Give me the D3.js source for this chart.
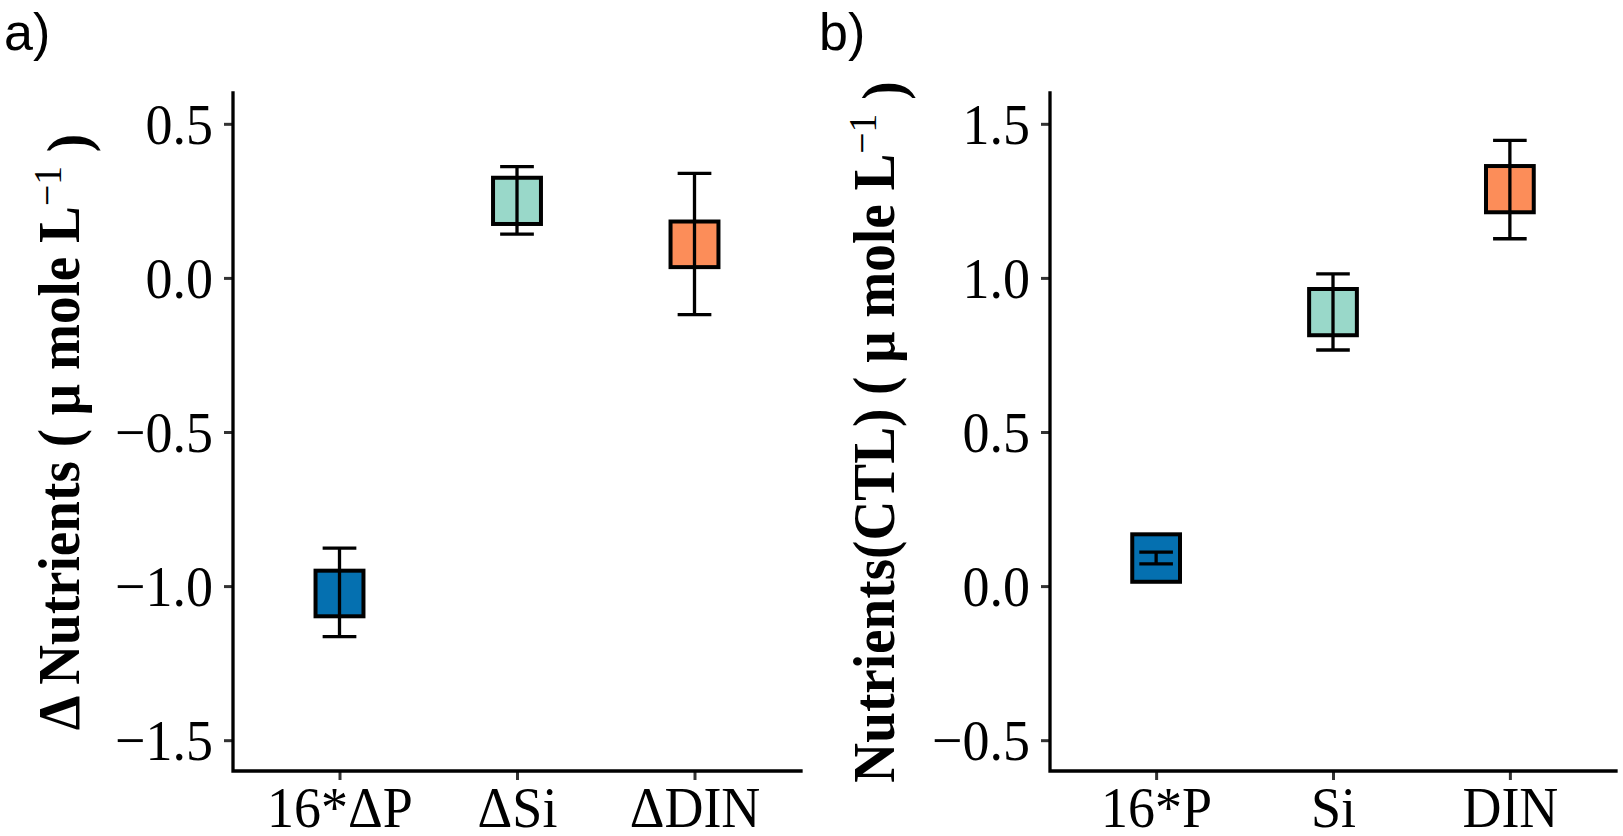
<!DOCTYPE html>
<html>
<head>
<meta charset="utf-8">
<script src="https://cdn.jsdelivr.net/npm/d3@7"></script>
<style>
  body { margin: 0; background: #fff; }
  text { font-family: "Liberation Serif", "Times New Roman", serif; }
</style>
</head>
<body>
<div id="chart"></div>
<script>
// panel a: change in nutrients
var catsA = ["16*ΔP", "ΔSi", "ΔDIN"];
var boxLoA = [-1.098, 0.175, 0.035];
var boxHiA = [-0.950, 0.325, 0.183];
var errLoA = [-1.164, 0.142, -0.119];
var errHiA = [-0.877, 0.361, 0.339];
var ticksA = [-1.5, -1.0, -0.5, 0.0, 0.5];
var domainA = [-1.6, 0.6];

// panel b: control nutrients
var catsB = ["16*P", "Si", "DIN"];
var boxLoB = [0.014, 0.814, 1.213];
var boxHiB = [0.168, 0.964, 1.363];
var errLoB = [0.072, 0.766, 1.127];
var errHiB = [0.110, 1.013, 1.446];
var ticksB = [-0.5, 0.0, 0.5, 1.0, 1.5];
var domainB = [-0.6, 1.6];

var fills = ["#0570b0", "#99d8c9", "#fc8d59"];

var W = 1623, H = 836;
var svg = d3.select("#chart").append("svg")
    .attr("width", W)
    .attr("height", H);
svg.append("rect").attr("width", W).attr("height", H).attr("fill", "#fff");

var plotTop = 93, plotBottom = 771;

// the original text is a little taller than wide: draw bigger, squeeze width back
function narrow(sel, baseSize, bigSize) {
    sel.each(function() {
        var el = d3.select(this).style("font-size", baseSize + "px");
        var len = this.getComputedTextLength();
        el.style("font-size", bigSize + "px")
          .attr("textLength", len)
          .attr("lengthAdjust", "spacingAndGlyphs");
    });
}

function drawPanel(opt) {
    var g = svg.append("g");
    var x = d3.scalePoint()
        .domain(opt.cats)
        .range([opt.left, opt.right])
        .padding(0.6);
    var y = d3.scaleLinear()
        .domain(opt.domain)
        .range([plotBottom, plotTop]);
    var step = x.step();
    var boxW = step * 0.27, capW = step * 0.19;

    // axes
    var yAxis = g.append("g")
        .attr("transform", "translate(" + opt.left + ",0)")
        .call(d3.axisLeft(y).tickValues(opt.ticks).tickFormat(d3.format(".1f")).tickSize(9).tickPadding(11));
    var xAxis = g.append("g")
        .attr("transform", "translate(0," + plotBottom + ")")
        .call(d3.axisBottom(x).tickSize(9).tickPadding(8));

    [yAxis, xAxis].forEach(function(a) {
        a.select(".domain").remove();
        a.selectAll(".tick line").attr("stroke", "#333").attr("stroke-width", 3);
        a.selectAll(".tick text")
            .attr("fill", "#000")
            .style("font-family", "'Liberation Serif', serif");
        narrow(a.selectAll(".tick text"), 54, 58);
    });
    yAxis.selectAll(".tick text").attr("dy", "0.34em");
    xAxis.selectAll(".tick text").attr("dy", "0.68em");

    g.append("path")
        .attr("d", "M" + opt.left + "," + plotTop + "V" + plotBottom + "H" + opt.right)
        .attr("fill", "none")
        .attr("stroke", "#000")
        .attr("stroke-width", 3.3)
        .attr("stroke-linecap", "square");

    var idx = d3.range(opt.cats.length);

    // boxes
    g.selectAll("rect.box")
        .data(idx)
        .enter()
        .append("rect")
        .classed("box", true)
        .attr("x", function(i) { return x(opt.cats[i]) - boxW / 2; })
        .attr("y", function(i) { return y(opt.boxHi[i]); })
        .attr("width", boxW)
        .attr("height", function(i) { return y(opt.boxLo[i]) - y(opt.boxHi[i]); })
        .attr("fill", function(i) { return fills[i]; })
        .attr("stroke", "#000")
        .attr("stroke-width", 4);

    // error bars
    var eb = g.selectAll("g.err")
        .data(idx)
        .enter()
        .append("g")
        .classed("err", true)
        .attr("stroke", "#000")
        .attr("stroke-width", 3.3);
    eb.append("line")
        .attr("x1", function(i) { return x(opt.cats[i]); })
        .attr("x2", function(i) { return x(opt.cats[i]); })
        .attr("y1", function(i) { return y(opt.errLo[i]); })
        .attr("y2", function(i) { return y(opt.errHi[i]); });
    [opt.errLo, opt.errHi].forEach(function(arr) {
        eb.append("line")
            .attr("x1", function(i) { return x(opt.cats[i]) - capW / 2; })
            .attr("x2", function(i) { return x(opt.cats[i]) + capW / 2; })
            .attr("y1", function(i) { return y(arr[i]); })
            .attr("y2", function(i) { return y(arr[i]); });
    });

    // y title
    var t = g.append("text")
        .attr("transform", "translate(" + opt.titleX + "," + ((plotTop + plotBottom) / 2) + ") rotate(-90) scale(0.92,1)")
        .attr("text-anchor", "middle")
        .style("font-size", "60px")
        .style("font-weight", "bold");
    t.append("tspan").text(opt.title + " ( μ mole L");
    t.append("tspan").attr("dy", "-0.45em").style("font-size", "41px").style("font-weight", "normal").text("−1");
    t.append("tspan").attr("dy", "0.45em").text(" )");

    // panel tag
    svg.append("text")
        .attr("x", opt.tagX)
        .attr("y", 50)
        .style("font-family", "'Liberation Sans', Arial, sans-serif")
        .style("font-size", "52px")
        .text(opt.tag);
}

drawPanel({
    cats: catsA, boxLo: boxLoA, boxHi: boxHiA, errLo: errLoA, errHi: errHiA,
    ticks: ticksA, domain: domainA, left: 233, right: 801,
    title: "Δ Nutrients", titleX: 79, tag: "a)", tagX: 4
});
drawPanel({
    cats: catsB, boxLo: boxLoB, boxHi: boxHiB, errLo: errLoB, errHi: errHiB,
    ticks: ticksB, domain: domainB, left: 1050, right: 1616,
    title: "Nutrients(CTL)", titleX: 894, tag: "b)", tagX: 819
});
</script>
</body>
</html>
